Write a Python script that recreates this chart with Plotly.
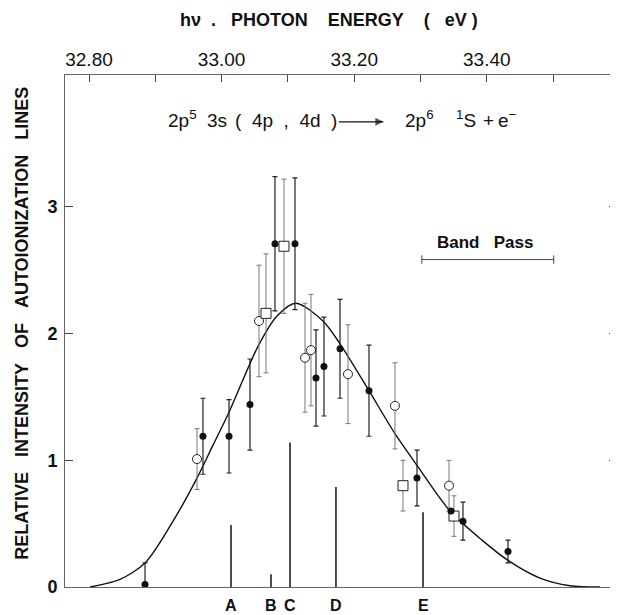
import plotly.graph_objects as go

FONT = "Liberation Sans, Arial, sans-serif"

# ---- top axis ticks ----
tick_vals = [32.8, 33.0, 33.2, 33.4]
tick_text = ["32.80", "33.00", "33.20", "33.40"]
minor_step = 0.1
y_ticks = [0, 1, 2, 3]

# ---- fitted curve ----
curve_x = [32.8015, 32.8468, 32.8845, 32.9222, 32.9629, 32.9870, 33.0112, 33.0549,
           33.0836, 33.1122, 33.1529, 33.1786, 33.2223, 33.2615, 33.2947, 33.3445,
           33.3928, 33.4320, 33.4802, 33.5255, 33.5708]
curve_y = [0.0, 0.06, 0.19, 0.48, 0.86, 1.12, 1.38, 1.90,
           2.14, 2.24, 2.10, 1.92, 1.55, 1.21, 0.96, 0.60,
           0.37, 0.21, 0.07, 0.01, 0.0]

# ---- filled circles ----
filled_x = [32.8845, 32.9719, 33.0112, 33.0428, 33.0805, 33.1107, 33.1424, 33.1544,
            33.1786, 33.2223, 33.2947, 33.3460, 33.3641, 33.4320]
filled_y = [0.02, 1.19, 1.19, 1.44, 2.71, 2.71, 1.65, 1.74,
            1.88, 1.55, 0.86, 0.60, 0.52, 0.28]
filled_err_up = [0.17, 0.30, 0.29, 0.36, 0.53, 0.52, 0.38, 0.39,
                 0.39, 0.36, 0.22, 0.0, 0.15, 0.09]
filled_err_dn = [0.0, 0.30, 0.29, 0.36, 0.53, 0.52, 0.38, 0.39,
                 0.39, 0.36, 0.22, 0.0, 0.15, 0.09]

# ---- open circles ----
open_x = [32.9629, 33.0564, 33.1258, 33.1348, 33.1906, 33.2615, 33.3430]
open_y = [1.01, 2.10, 1.81, 1.87, 1.68, 1.43, 0.80]
open_err = [0.24, 0.44, 0.43, 0.44, 0.39, 0.34, 0.20]

# ---- open squares ----
square_x = [33.0670, 33.0941, 33.2736, 33.3505]
square_y = [2.16, 2.69, 0.80, 0.56]
square_err = [0.47, 0.53, 0.20, 0.16]

# ---- autoionization line positions ----
line_labels = ["A", "B", "C", "D", "E"]
line_x = [33.0142, 33.0745, 33.1032, 33.1725, 33.3038]
line_h = [0.49, 0.10, 1.14, 0.79, 0.59]

# ---- band pass ----
band_x = [33.302, 33.501]
band_y = [2.585, 2.585]

# ---- reaction formula pieces (text, x position) ----
NB = "\u00a0"
formula_parts = ["2p<sup>5</sup>", "3s", "(" + NB * 2 + "4p" + NB * 2 + "," + NB * 2 + "4d" + NB * 2 + ")",
                 "2p<sup>6</sup>", "<sup>1</sup>S", "+", "e<sup>−</sup>"]
formula_x = [32.9403, 32.9931, 33.0971, 33.2992, 33.3686, 33.4033, 33.4305]
arrow_x = [33.1770, 33.2440]
arrow_y = [3.672, 3.672]

fig = go.Figure()

# vertical lines A-E
lx, ly = [], []
for x, h in zip(line_x, line_h):
    lx += [x, x, None]
    ly += [0, h, None]
fig.add_trace(go.Scatter(x=lx, y=ly, mode="lines",
                         line=dict(color="#111", width=1.5), hoverinfo="skip"))

# curve
fig.add_trace(go.Scatter(x=curve_x, y=curve_y, mode="lines",
                         line=dict(color="#111", width=1.4, shape="spline", smoothing=0.8)))

# open circles
fig.add_trace(go.Scatter(
    x=open_x, y=open_y, mode="markers",
    marker=dict(symbol="circle", size=9, color="white", line=dict(color="#222", width=1)),
    error_y=dict(type="data", array=open_err, color="#777", thickness=1, width=2.5)))

# squares
fig.add_trace(go.Scatter(
    x=square_x, y=square_y, mode="markers",
    marker=dict(symbol="square", size=10, color="white", line=dict(color="#222", width=1)),
    error_y=dict(type="data", array=square_err, color="#777", thickness=1, width=2.5)))

# filled circles
fig.add_trace(go.Scatter(
    x=filled_x, y=filled_y, mode="markers",
    marker=dict(symbol="circle", size=7, color="#111"),
    error_y=dict(type="data", symmetric=False, array=filled_err_up,
                 arrayminus=filled_err_dn, color="#222", thickness=1.2, width=2.5)))

# band pass bar
fig.add_trace(go.Scatter(x=band_x, y=band_y, mode="lines+markers",
                         line=dict(color="#444", width=1),
                         marker=dict(symbol="line-ns", size=6, line=dict(color="#444", width=1))))

# reaction arrow (line + arrow head)
fig.add_trace(go.Scatter(x=arrow_x, y=arrow_y, mode="lines+markers",
                         line=dict(color="#111", width=1.2),
                         marker=dict(symbol=["line-ns", "arrow-right"], size=[0, 8],
                                     color="#111", line=dict(width=0)),
                         hoverinfo="skip"))

annotations = []
# title
annotations.append(dict(xref="paper", yref="paper", x=0.478, y=1.107,
                        text="<b>hν" + NB * 2 + "." + NB * 3 + "PHOTON" + NB * 4 + "ENERGY" + NB * 4 +
                             "(" + NB * 3 + "eV" + NB + ")</b>",
                        showarrow=False, font=dict(family=FONT, size=18, color="#111"),
                        xanchor="center", yanchor="middle"))
# y-axis title
annotations.append(dict(xref="paper", yref="paper", x=-0.078, y=0.516,
                        text="<b>RELATIVE" + NB * 3 + "INTENSITY" + NB * 3 + "OF" + NB * 3 +
                             "AUTOIONIZATION" + NB * 3 + "LINES</b>",
                        textangle=-90, showarrow=False,
                        font=dict(family=FONT, size=18, color="#111"),
                        xanchor="center", yanchor="middle"))
# formula pieces
for txt, x in zip(formula_parts, formula_x):
    annotations.append(dict(xref="x", yref="y", x=x, y=3.584, text=txt,
                            showarrow=False, font=dict(family=FONT, size=19, color="#111"),
                            xanchor="center", yanchor="bottom"))
# band pass text
annotations.append(dict(xref="x", yref="y", x=33.3973, y=2.72,
                        text="<b>Band" + NB * 3 + "Pass</b>", showarrow=False,
                        font=dict(family=FONT, size=17, color="#111"),
                        xanchor="center", yanchor="middle"))
# letters under lines
for lab, x in zip(line_labels, line_x):
    annotations.append(dict(xref="x", yref="paper", x=x, y=-0.036, text="<b>%s</b>" % lab,
                            showarrow=False, font=dict(family=FONT, size=16, color="#111"),
                            xanchor="center", yanchor="middle"))

# The page body adds an 8 px margin, so the figure is 8 px smaller.
fig.update_layout(
    width=610, height=607,
    margin=dict(l=57, r=1, t=67, b=28),
    paper_bgcolor="white", plot_bgcolor="white",
    showlegend=False,
    annotations=annotations,
    xaxis=dict(side="top", range=[32.7638, 33.5964], tickvals=tick_vals, ticktext=tick_text,
               ticks="inside", ticklen=7, tickcolor="#444", showline=True, linecolor="#666",
               linewidth=1, mirror=True, showgrid=False, zeroline=False,
               minor=dict(ticks="inside", tick0=32.8, dtick=minor_step, ticklen=7,
                          tickcolor="#444", showgrid=False),
               tickfont=dict(family=FONT, size=19, color="#111")),
    yaxis=dict(range=[0, 4.042], tickvals=y_ticks, ticks="inside", ticklen=8,
               tickcolor="#444", showline=True, linecolor="#666", linewidth=1,
               mirror="ticks", showgrid=False, zeroline=False, ticklabelstandoff=3,
               tickfont=dict(family=FONT, size=18, color="#111", weight="bold")),
)

fig.write_html("out.html")
